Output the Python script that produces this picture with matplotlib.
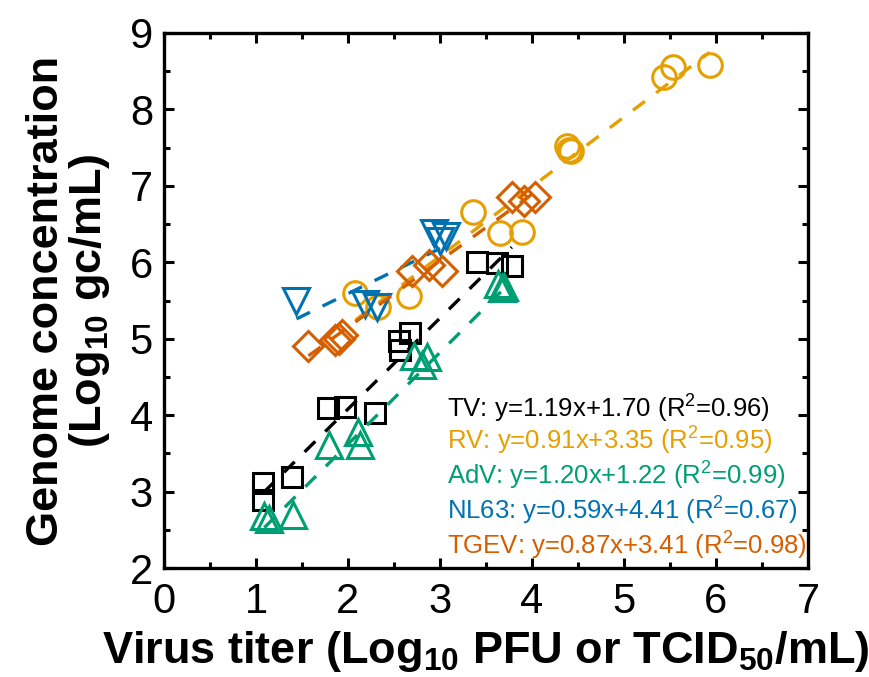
import matplotlib
matplotlib.use("Agg")
import matplotlib.pyplot as plt
import numpy as np

plt.rcParams['font.family'] = ['Liberation Sans', 'DejaVu Sans']
plt.rcParams['mathtext.fontset'] = 'custom'
plt.rcParams['mathtext.rm'] = 'Liberation Sans'
plt.rcParams['mathtext.it'] = 'Liberation Sans'
plt.rcParams['mathtext.bf'] = 'Liberation Sans:bold'

# ---- data ----
tv_x = [1.08, 1.08, 1.39, 1.78, 1.97, 2.29, 2.55, 2.67, 2.57, 3.40, 3.62, 3.78]
tv_y = [3.11, 2.89, 3.19, 4.09, 4.11, 4.03, 4.97, 5.08, 4.85, 6.01, 5.99, 5.95]

rv_x = [2.08, 2.33, 2.66, 3.36, 3.65, 3.89, 4.38, 4.40, 4.42, 5.43, 5.53, 5.93]
rv_y = [5.60, 5.42, 5.56, 6.66, 6.38, 6.40, 7.52, 7.47, 7.45, 8.43, 8.55, 8.58]

adv_x = [1.09, 1.14, 1.40, 1.79, 2.11, 2.13, 2.72, 2.80, 2.86, 3.63, 3.67, 3.70]
adv_y = [2.68, 2.64, 2.69, 3.61, 3.78, 3.61, 4.78, 4.66, 4.76, 5.72, 5.66, 5.68]

nl63_x = [1.44, 2.18, 2.31, 2.93, 3.07, 3.00]
nl63_y = [5.49, 5.46, 5.42, 6.38, 6.34, 6.28]

tgev_x = [1.57, 1.86, 1.93, 1.90, 2.70, 2.88, 3.02, 3.78, 3.91, 4.03]
tgev_y = [4.91, 4.98, 5.05, 5.00, 5.89, 5.97, 5.89, 6.86, 6.80, 6.86]

names = ['TV', 'RV', 'AdV', 'NL63', 'TGEV']
slopes = [1.19, 0.91, 1.20, 0.59, 0.87]
intercepts = [1.70, 3.35, 1.22, 4.41, 3.41]
r2 = [0.96, 0.95, 0.99, 0.67, 0.98]

xs = [tv_x, rv_x, adv_x, nl63_x, tgev_x]
ys = [tv_y, rv_y, adv_y, nl63_y, tgev_y]
colors = ['#000000', '#E69F00', '#009E73', '#0072B2', '#D55E00']
markers = ['s', 'o', '^', 'v', 'D']
msizes = [15, 17, 19, 19, 15]

fig = plt.figure(figsize=(8.7, 6.77), dpi=100)
ax = fig.add_axes([164/870, 1-568/677, (808-164)/870, (568-33)/677])

for x, y, c, m, ms, s, b in zip(xs, ys, colors, markers, msizes, slopes, intercepts):
    ax.plot(x, y, linestyle='none', marker=m, markersize=ms, markerfacecolor='none',
            markeredgecolor=c, markeredgewidth=2.2)
    xl = np.array([min(x), max(x)])
    ax.plot(xl, s * xl + b, color=c, lw=2.4, dashes=[4.5, 4.2])

ax.set_xlim(0, 7)
ax.set_ylim(2, 9)
ax.set_xticks(range(0, 8))
ax.set_yticks(range(2, 10))
ax.set_xticks(np.arange(0.5, 7, 1), minor=True)
ax.set_yticks(np.arange(2.5, 9, 1), minor=True)
ax.tick_params(which='both', direction='in', top=True, right=True, width=2.2)
ax.tick_params(which='major', length=7, labelsize=30, pad=8)
ax.tick_params(axis='x', which='major', pad=10)
ax.tick_params(which='minor', length=4)
for sp in ax.spines.values():
    sp.set_linewidth(2.4)

ax.set_xlabel(r'Virus titer (Log$_{\mathbf{10}}$ PFU or TCID$_{\mathbf{50}}$/mL)',
              fontsize=32.5, fontweight='bold', labelpad=5)
ax.set_ylabel('Genome concentration\n' + r'(Log$_{\mathbf{10}}$ gc/mL)',
              fontsize=32.5, fontweight='bold', labelpad=13, linespacing=1.0)

baselines = [0.282, 0.221, 0.1551, 0.0897, 0.0243]
for n, s, b, r, c, yb in zip(names, slopes, intercepts, r2, colors, baselines):
    ax.text(0.4394, yb, f'{n}: y={s:.2f}x+{b:.2f} (R$^2$={r:.2f})', transform=ax.transAxes,
            color=c, fontsize=18.5, va='baseline', ha='left')

fig.savefig('out.png', dpi=100)
